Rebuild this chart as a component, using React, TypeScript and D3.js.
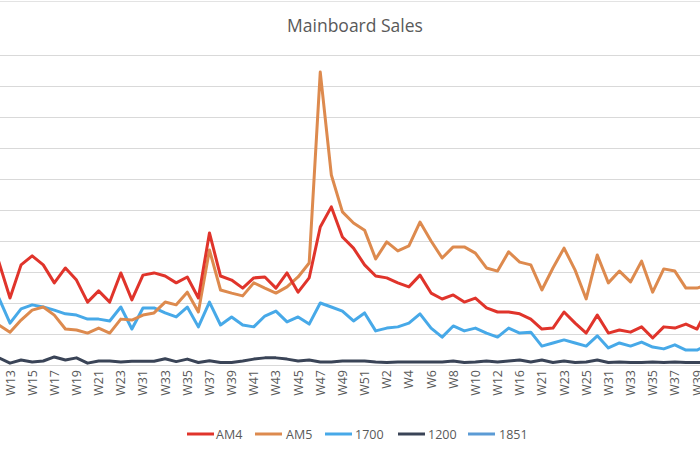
import React from "react";
import * as d3 from "d3";

const categories: string[] = [
  "W12", "W13", "W14", "W15", "W16", "W17", "W18", "W19", "W20", "W21", "W22", "W23", "W30",
  "W31", "W32", "W33", "W34", "W35", "W36", "W37", "W38", "W39", "W40", "W41", "W42", "W43",
  "W44", "W45", "W46", "W47", "W48", "W49", "W50", "W51", "W1", "W2", "W3", "W4", "W5", "W6",
  "W7", "W8", "W9", "W10", "W11", "W12", "W13", "W16", "W20", "W21", "W22", "W23", "W24", "W25",
  "W30", "W31", "W32", "W33", "W34", "W35", "W36", "W37", "W38", "W39", "W40",
];

const am4: number[] = [
  332, 216, 323, 352, 323, 265, 313, 274, 203, 239, 203, 297, 210,
  290, 297, 287, 265, 284, 216, 426, 287, 274, 248, 281, 284, 248,
  297, 235, 281, 445, 510, 413, 377, 323, 287, 281, 265, 252, 290, 232,
  213, 226, 203, 216, 184, 171, 171, 165, 148, 116, 119, 171, 135, 103,
  161, 103, 113, 106, 123, 87, 123, 119, 132, 116, 185,
];

const am5: number[] = [
  129, 106, 145, 177, 187, 161, 116, 113, 103, 119, 103, 148, 145,
  161, 168, 203, 194, 235, 171, 371, 242, 232, 223, 265, 248, 232,
  252, 284, 329, 945, 613, 494, 458, 435, 342, 397, 368, 384, 461, 400,
  345, 381, 381, 361, 313, 303, 365, 332, 323, 242, 313, 377, 306, 213,
  355, 265, 303, 268, 335, 235, 310, 303, 248, 248, 260,
];

const s1700: number[] = [
  216, 135, 181, 194, 187, 177, 165, 161, 148, 148, 142, 187, 116,
  184, 184, 168, 155, 187, 123, 203, 129, 155, 129, 123, 158, 174,
  139, 155, 132, 200, 187, 174, 142, 168, 110, 119, 123, 135, 165, 119,
  90, 126, 110, 119, 103, 90, 119, 103, 106, 61, 71, 81, 71, 61,
  94, 55, 71, 61, 74, 58, 52, 65, 48, 48, 65,
];

const s1200: number[] = [
  23, 6, 16, 10, 13, 26, 16, 23, 6, 13, 13, 10, 12,
  12, 12, 20, 11, 19, 8, 14, 8, 8, 13, 19, 23, 23,
  19, 13, 16, 10, 10, 13, 13, 13, 10, 8, 10, 10, 10, 10,
  10, 13, 8, 10, 13, 10, 13, 16, 10, 16, 8, 13, 8, 10,
  16, 8, 10, 8, 8, 10, 8, 10, 8, 8, 8,
];

const s1851: (number | null)[] = [];

const seriesNames: string[] = ["AM4", "AM5", "1700", "1200", "1851"];
const seriesColors: string[] = ["#E0342B", "#DD8A4E", "#47A9E8", "#3A4457", "#5B9BD5"];
const seriesData: (number | null)[][] = [am4, am5, s1700, s1200, s1851];

const yTicks: number[] = [0, 100, 200, 300, 400, 500, 600, 700, 800, 900, 1000];

const W = 700;
const H = 450;
const font = "'Open Sans', 'Liberation Sans', sans-serif";

export default function App() {
  const x = d3.scaleLinear().domain([1, 63]).range([10, 697]);
  const y = d3.scaleLinear().domain([0, 1000]).range([365, 55]);

  const line = d3
    .line<number | null>()
    .defined((d) => d !== null && d !== undefined)
    .x((_, i) => x(i))
    .y((d) => y(d as number));

  const drawOrder = [4, 3, 2, 1, 0];

  const legendItems = [
    { x: 187, tx: 216 },
    { x: 255, tx: 286 },
    { x: 325, tx: 355 },
    { x: 398, tx: 428 },
    { x: 468, tx: 499 },
  ];

  return (
    <div style={{ position: "fixed", left: 0, top: 0 }}>
      <svg width={W} height={H} style={{ display: "block", background: "#fff" }}>
        <line x1={0} x2={W} y1={1.5} y2={1.5} stroke="#e3e3e3" strokeWidth={1} />
        <text
          x={355}
          y={32}
          textAnchor="middle"
          fontFamily={font}
          fontSize={17.5}
          fill="#595959"
        >
          Mainboard Sales
        </text>
        {yTicks.map((t) => (
          <line
            key={t}
            x1={0}
            x2={W}
            y1={Math.round(y(t)) + 0.5}
            y2={Math.round(y(t)) + 0.5}
            stroke="#d9d9d9"
            strokeWidth={1}
          />
        ))}
        {drawOrder.map((si) => (
          <path
            key={seriesNames[si]}
            d={line(seriesData[si]) || ""}
            fill="none"
            stroke={seriesColors[si]}
            strokeWidth={3}
            strokeLinejoin="round"
            strokeLinecap="round"
          />
        ))}
        {categories.map((c, i) =>
          i % 2 === 1 ? (
            <text
              key={i}
              transform={`translate(${x(i) + 4.5},${370}) rotate(-90)`}
              textAnchor="end"
              fontFamily={font}
              fontSize={12.5}
              fill="#595959"
            >
              {c}
            </text>
          ) : null
        )}
        {seriesNames.map((n, si) => (
          <g key={n}>
            <line
              x1={legendItems[si].x}
              x2={legendItems[si].x + 27}
              y1={434}
              y2={434}
              stroke={seriesColors[si]}
              strokeWidth={3}
            />
            <text
              x={legendItems[si].tx}
              y={438.5}
              fontFamily={font}
              fontSize={12.5}
              fill="#595959"
            >
              {n}
            </text>
          </g>
        ))}
      </svg>
    </div>
  );
}
